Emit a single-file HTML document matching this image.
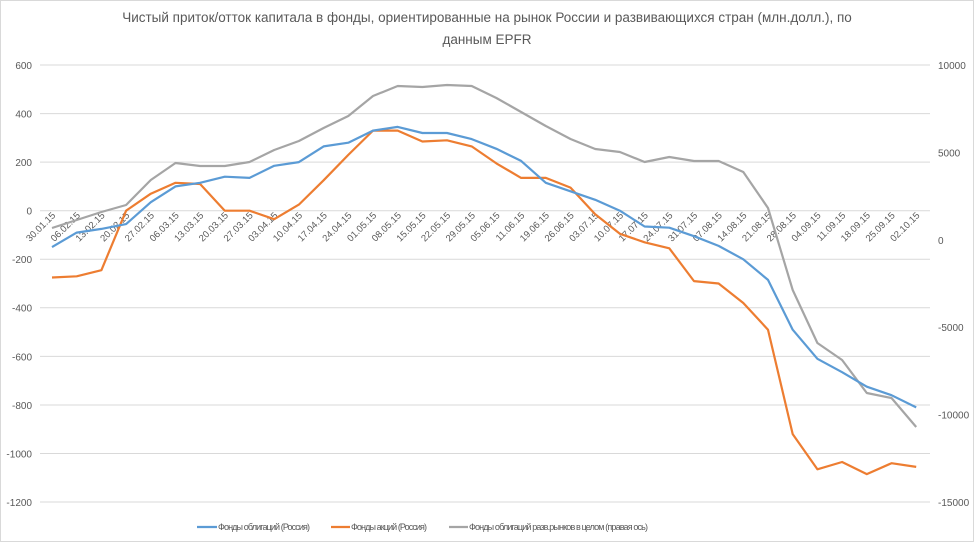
<!DOCTYPE html>
<html><head><meta charset="utf-8"><style>
body{margin:0;background:#fff;}
svg{display:block;font-family:"Liberation Sans","DejaVu Sans",sans-serif;}
</style></head><body>
<svg width="974" height="545" viewBox="0 0 974 545">
<rect x="0.5" y="0.5" width="973" height="541" fill="#fff" stroke="#d9d9d9"/>
<text x="487" y="22" text-anchor="middle" font-size="13.5" fill="#595959">Чистый приток/отток  капитала в фонды, ориентированные  на рынок  России и развивающихся стран (млн.долл.),  по</text>
<text x="487" y="44" text-anchor="middle" font-size="13.5" fill="#595959">данным EPFR</text>
<g stroke="#d9d9d9" stroke-width="1">
<line x1="40" x2="930" y1="65" y2="65"/><line x1="40" x2="930" y1="113.6" y2="113.6"/><line x1="40" x2="930" y1="162.1" y2="162.1"/><line x1="40" x2="930" y1="210.7" y2="210.7"/><line x1="40" x2="930" y1="259.3" y2="259.3"/><line x1="40" x2="930" y1="307.8" y2="307.8"/><line x1="40" x2="930" y1="356.4" y2="356.4"/><line x1="40" x2="930" y1="405" y2="405"/><line x1="40" x2="930" y1="453.5" y2="453.5"/><line x1="40" x2="930" y1="502" y2="502"/>
</g>
<g font-size="10" fill="#595959" text-anchor="end">
<text x="32" y="69">600</text><text x="32" y="117.6">400</text><text x="32" y="166">200</text><text x="32" y="214.6">0</text><text x="32" y="263">-200</text><text x="32" y="311.7">-400</text><text x="32" y="360.3">-600</text><text x="32" y="409">-800</text><text x="32" y="457.4">-1000</text><text x="32" y="506">-1200</text>
</g>
<g font-size="10" fill="#595959" text-anchor="start">
<text x="938" y="69">10000</text><text x="938" y="156.4">5000</text><text x="938" y="243.8">0</text><text x="938" y="331.2">-5000</text><text x="938" y="418.6">-10000</text><text x="938" y="506">-15000</text>
</g>
<g font-size="9.5" fill="#595959" text-anchor="end">
<text transform="translate(56,216) rotate(-45)">30.01.15</text>
<text transform="translate(80.7,216) rotate(-45)">06.02.15</text>
<text transform="translate(105.4,216) rotate(-45)">13.02.15</text>
<text transform="translate(130.1,216) rotate(-45)">20.02.15</text>
<text transform="translate(154.8,216) rotate(-45)">27.02.15</text>
<text transform="translate(179.5,216) rotate(-45)">06.03.15</text>
<text transform="translate(204.1,216) rotate(-45)">13.03.15</text>
<text transform="translate(228.8,216) rotate(-45)">20.03.15</text>
<text transform="translate(253.5,216) rotate(-45)">27.03.15</text>
<text transform="translate(278.2,216) rotate(-45)">03.04.15</text>
<text transform="translate(302.9,216) rotate(-45)">10.04.15</text>
<text transform="translate(327.6,216) rotate(-45)">17.04.15</text>
<text transform="translate(352.3,216) rotate(-45)">24.04.15</text>
<text transform="translate(377,216) rotate(-45)">01.05.15</text>
<text transform="translate(401.7,216) rotate(-45)">08.05.15</text>
<text transform="translate(426.4,216) rotate(-45)">15.05.15</text>
<text transform="translate(451,216) rotate(-45)">22.05.15</text>
<text transform="translate(475.7,216) rotate(-45)">29.05.15</text>
<text transform="translate(500.4,216) rotate(-45)">05.06.15</text>
<text transform="translate(525.1,216) rotate(-45)">11.06.15</text>
<text transform="translate(549.8,216) rotate(-45)">19.06.15</text>
<text transform="translate(574.5,216) rotate(-45)">26.06.15</text>
<text transform="translate(599.2,216) rotate(-45)">03.07.15</text>
<text transform="translate(623.9,216) rotate(-45)">10.07.15</text>
<text transform="translate(648.6,216) rotate(-45)">17.07.15</text>
<text transform="translate(673.3,216) rotate(-45)">24.07.15</text>
<text transform="translate(698,216) rotate(-45)">31.07.15</text>
<text transform="translate(722.6,216) rotate(-45)">07.08.15</text>
<text transform="translate(747.3,216) rotate(-45)">14.08.15</text>
<text transform="translate(772,216) rotate(-45)">21.08.15</text>
<text transform="translate(796.7,216) rotate(-45)">28.08.15</text>
<text transform="translate(821.4,216) rotate(-45)">04.09.15</text>
<text transform="translate(846.1,216) rotate(-45)">11.09.15</text>
<text transform="translate(870.8,216) rotate(-45)">18.09.15</text>
<text transform="translate(895.5,216) rotate(-45)">25.09.15</text>
<text transform="translate(920.2,216) rotate(-45)">02.10.15</text>
</g>
<g fill="none" stroke-width="2.2" stroke-linejoin="round">
<polyline stroke="#a5a5a5" points="52,228 76.7,220 101.4,212 126.1,205 150.8,180 175.5,163 200.1,166 224.8,166 249.5,162 274.2,150 298.9,141 323.6,128 348.3,116 373,96 397.7,86 422.4,87 447,85 471.7,86 496.4,98 521.1,112 545.8,126 570.5,139 595.2,149 619.9,152 644.6,162 669.3,157 694,161 718.6,161 743.3,172 768,208 792.7,290 817.4,343 842.1,360 866.8,393 891.5,398 916.2,427"/>
<polyline stroke="#ed7d31" points="52,277.5 76.7,276.3 101.4,270.2 126.1,210.7 150.8,193.7 175.5,182.8 200.1,184 224.8,210.7 249.5,210.7 274.2,219.2 298.9,204.6 323.6,180.3 348.3,154.9 373,130.6 397.7,130.6 422.4,141.5 447,140.3 471.7,146.4 496.4,163.4 521.1,177.9 545.8,177.9 570.5,187.6 595.2,214.3 619.9,233.8 644.6,242.3 669.3,248.3 694,281.1 718.6,283.5 743.3,303 768,329.7 792.7,434.1 817.4,469.3 842.1,462 866.8,474.1 891.5,463.2 916.2,466.9"/>
<polyline stroke="#5b9bd5" points="52,247.1 76.7,232.6 101.4,228.9 126.1,224.1 150.8,202.2 175.5,186.4 200.1,182.8 224.8,176.7 249.5,177.9 274.2,165.8 298.9,162.1 323.6,146.4 348.3,142.7 373,130.6 397.7,126.9 422.4,133 447,133 471.7,139.1 496.4,148.8 521.1,160.9 545.8,182.8 570.5,191.3 595.2,199.8 619.9,210.7 644.6,226.5 669.3,227.7 694,236.2 718.6,245.9 743.3,259.3 768,279.9 792.7,329.7 817.4,358.8 842.1,372.2 866.8,386.7 891.5,395.2 916.2,407.4"/>
</g>
<g font-size="9" fill="#595959">
<line x1="197" x2="217" y1="527" y2="527" stroke="#5b9bd5" stroke-width="2.2"/>
<text x="218" y="530" textLength="92">Фонды облигаций (Россия)</text>
<line x1="331" x2="350" y1="527" y2="527" stroke="#ed7d31" stroke-width="2.2"/>
<text x="351" y="530" textLength="76">Фонды акций (Россия)</text>
<line x1="449" x2="468" y1="527" y2="527" stroke="#a5a5a5" stroke-width="2.2"/>
<text x="469" y="530" textLength="179">Фонды облигаций разв.рынков в целом (правая ось)</text>
</g>
</svg>
</body></html>
